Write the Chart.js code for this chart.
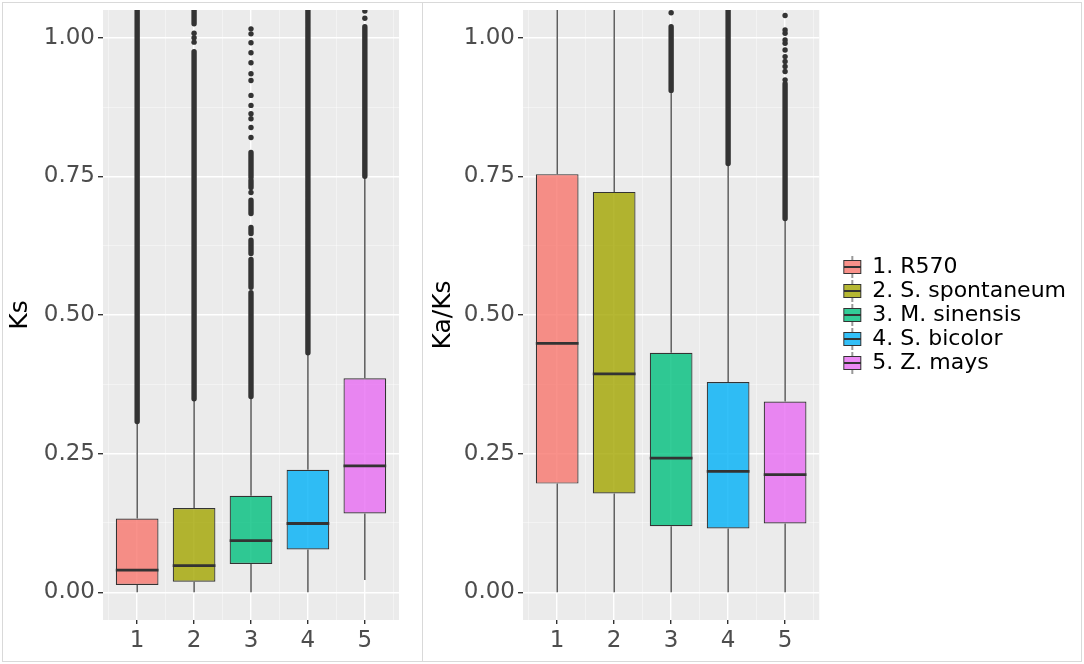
<!DOCTYPE html>
<html>
<head>
<meta charset="utf-8">
<title>Ks and Ka/Ks by species</title>
<script src="https://cdn.jsdelivr.net/npm/chart.js@4.4.1/dist/chart.umd.min.js"></script>
<style>
  html, body { margin: 0; padding: 0; background: #fff; }
  body { width: 1084px; height: 664px; position: relative; overflow: hidden; }
  .panel { position: absolute; top: 0; height: 664px; }
  #left { left: 0; width: 422px; }
  #right { left: 423px; width: 661px; }
  .frame { position: absolute; left: 2px; top: 2px; width: 1078px; height: 658px; border: 1px solid #d9d9d9; pointer-events: none; }
  .divider { position: absolute; left: 422px; top: 2px; width: 1px; height: 660px; background: #d9d9d9; pointer-events: none; }
</style>
</head>
<body>
<div class="panel" id="left"><canvas id="ksChart"></canvas></div>
<div class="panel" id="right"><canvas id="kaksChart"></canvas></div>
<div class="frame"></div>
<div class="divider"></div>
<script>
const groups = ['1', '2', '3', '4', '5'];
const species = ['1. R570', '2. S. spontaneum', '3. M. sinensis', '4. S. bicolor', '5. Z. mays'];
const hues = ['#F8766D', '#A3A500', '#00BF7D', '#00B0F6', '#E76BF3'];

const yMajor = [0, 0.25, 0.5, 0.75, 1.0];
const yMinor = [0.125, 0.375, 0.625, 0.875];
const yLabels = ['0.00', '0.25', '0.50', '0.75', '1.00'];
const xMinor = [0.5, 1.5, 2.5, 3.5, 4.5, 5.5];

// Ks boxes
const ksLow  = [0.000, 0.000, 0.000, 0.000, 0.022];
const ksQ1   = [0.013, 0.019, 0.051, 0.077, 0.142];
const ksMed  = [0.040, 0.048, 0.093, 0.124, 0.228];
const ksQ3   = [0.133, 0.152, 0.174, 0.221, 0.386];
const ksHigh = [0.308, 0.349, 0.353, 0.432, 0.750];
// Ks outliers: packed runs [from, to] and single points
const ksOutRuns = [
  [[0.308, 1.06]],
  [[0.349, 0.975], [1.025, 1.06]],
  [[0.353, 0.54], [0.55, 0.60], [0.611, 0.635], [0.647, 0.658], [0.683, 0.707], [0.73, 0.743], [0.748, 0.793]],
  [[0.432, 1.06]],
  [[0.750, 1.02]]
];
const ksOutPts = [
  [],
  [0.992, 1.0, 1.008],
  [0.721, 0.82, 0.838, 0.854, 0.863, 0.878, 0.896, 0.923, 0.935, 0.955, 0.973, 0.991, 1.007, 1.016],
  [],
  [1.035, 1.048]
];

// Ka/Ks boxes
const kaksLow  = [0.000, 0.000, 0.000, 0.000, 0.000];
const kaksQ1   = [0.196, 0.178, 0.119, 0.115, 0.124];
const kaksMed  = [0.449, 0.394, 0.242, 0.218, 0.212];
const kaksQ3   = [0.754, 0.722, 0.432, 0.379, 0.344];
const kaksHigh = [1.200, 1.200, 0.905, 0.773, 0.674];
const kaksOutRuns = [[], [], [[0.905, 1.02]], [[0.773, 1.06]], [[0.674, 0.917]]];
const kaksOutPts = [
  [], [], [1.045], [],
  [0.924, 0.939, 0.948, 0.957, 0.966, 0.978, 0.990, 0.996, 1.008, 1.014, 1.040]
];

Chart.defaults.font.family = "'DejaVu Sans', sans-serif";

function alpha(hex, a) {
  const n = parseInt(hex.slice(1), 16);
  return `rgba(${n >> 16}, ${(n >> 8) & 255}, ${n & 255}, ${a})`;
}

// small boxplot glyph for the legend keys
function legendIcon(hex) {
  const c = document.createElement('canvas');
  c.width = 20;
  c.height = 22;
  const g = c.getContext('2d');
  g.strokeStyle = '#333';
  g.lineWidth = 1;
  g.beginPath();
  g.moveTo(10, 0); g.lineTo(10, 4.5);
  g.moveTo(10, 17.5); g.lineTo(10, 22);
  g.stroke();
  g.fillStyle = alpha(hex, 0.8);
  g.fillRect(1.5, 4.5, 17, 13);
  g.strokeRect(1.5, 4.5, 17, 13);
  g.lineWidth = 2;
  g.beginPath();
  g.moveTo(1.5, 11); g.lineTo(18.5, 11);
  g.stroke();
  return c;
}

const panelBackground = {
  id: 'panelBackground',
  beforeDraw(chart) {
    const {ctx, chartArea: a} = chart;
    ctx.save();
    ctx.fillStyle = '#EBEBEB';
    ctx.fillRect(a.left, a.top, a.width, a.height);
    ctx.restore();
  }
};

function boxDatasets(low, q1, med, q3, high, runs, pts) {
  const xs = groups.map((g, i) => i + 1);
  const half = 0.375;
  const medians = [], whiskers = [], outRuns = [], outPts = [];
  xs.forEach((x, i) => {
    medians.push({x: x - half, y: med[i]}, {x: x + half, y: med[i]}, {x, y: null});
    whiskers.push({x, y: low[i]}, {x, y: q1[i]}, {x, y: null}, {x, y: q3[i]}, {x, y: high[i]}, {x, y: null});
    runs[i].forEach(([a, b]) => outRuns.push({x, y: a}, {x, y: b}, {x, y: null}));
    pts[i].forEach(v => outPts.push({x, y: v}));
  });
  return [
    {type: 'line', data: medians, borderColor: '#333', borderWidth: 2.8, pointRadius: 0, clip: 0, order: 0},
    {
      type: 'bar',
      data: xs.map((x, i) => ({x, y: [q1[i], q3[i]]})),
      backgroundColor: hues.map(h => alpha(h, 0.8)),
      borderColor: '#333',
      borderWidth: 1.2,
      borderSkipped: false,
      barPercentage: 0.75,
      categoryPercentage: 1,
      clip: 0,
      order: 1
    },
    {type: 'line', data: whiskers, borderColor: '#333', borderWidth: 1.2, pointRadius: 0, clip: 0, order: 2},
    {type: 'line', data: outRuns, borderColor: '#333', borderWidth: 5.4, borderCapStyle: 'round', pointRadius: 0, clip: 0, order: 3},
    {type: 'scatter', data: outPts, backgroundColor: '#333', borderWidth: 0, pointRadius: 2.7, clip: 0, order: 3}
  ];
}

function scalesFor(title, yWidth) {
  return {
    x: {
      type: 'linear', min: 0.4, max: 5.6, offset: false,
      afterBuildTicks: s => { s.ticks = groups.map((g, i) => ({value: i + 1})); },
      afterFit: s => { s.height = 44; s.paddingLeft = 0; s.paddingRight = 0; },
      border: {display: false},
      grid: {offset: false, color: '#fff', lineWidth: 1.4, tickColor: '#333', tickLength: 4},
      ticks: {
        callback: v => groups[v - 1],
        color: '#4D4D4D', font: {size: 23}, padding: 3, maxRotation: 0, autoSkip: false
      }
    },
    xMinor: {
      type: 'linear', position: 'bottom', min: 0.4, max: 5.6, offset: false, display: true,
      afterBuildTicks: s => { s.ticks = xMinor.map(v => ({value: v})); },
      afterFit: s => { s.height = 0; s.paddingLeft = 0; s.paddingRight = 0; },
      border: {display: false},
      grid: {offset: false, color: 'rgba(255,255,255,0.6)', lineWidth: 0.7, drawTicks: false},
      ticks: {display: false}
    },
    y: {
      type: 'linear', min: -0.05, max: 1.05,
      afterBuildTicks: s => {
        s.ticks = yMajor.concat(yMinor).sort((a, b) => a - b).map(v => ({value: v}));
      },
      afterFit: s => { s.width = yWidth; s.paddingTop = 0; s.paddingBottom = 0; },
      border: {display: false},
      grid: {
        color: c => yMajor.includes(c.tick.value) ? '#fff' : 'rgba(255,255,255,0.6)',
        lineWidth: c => yMajor.includes(c.tick.value) ? 1.4 : 0.7,
        tickColor: c => yMajor.includes(c.tick.value) ? '#333' : 'rgba(0,0,0,0)',
        tickLength: 5
      },
      ticks: {
        callback: v => {
          const k = yMajor.indexOf(v);
          return k >= 0 ? yLabels[k] : '';
        },
        color: '#4D4D4D', font: {size: 23}, padding: 3, autoSkip: false
      },
      title: {display: true, text: title, color: '#000', font: {size: 25, lineHeight: 1.2}, padding: {top: 5, bottom: 0}}
    }
  };
}

function makeChart(id, title, yWidth, padRight, datasets, withLegend) {
  const scales = scalesFor(title, yWidth);
  if (withLegend) {
    // empty strip between the panel and the legend
    scales.gap = {
      type: 'linear', position: 'right', display: true,
      afterFit: s => { s.width = 22; s.paddingTop = 0; s.paddingBottom = 0; },
      grid: {display: false}, ticks: {display: false}, border: {display: false}
    };
  }
  datasets.forEach(d => { d.xAxisID = 'x'; d.yAxisID = 'y'; });
  const icons = hues.map(legendIcon);
  return new Chart(document.getElementById(id), {
    type: 'bar',
    data: {datasets},
    options: {
      responsive: true,
      maintainAspectRatio: false,
      animation: false,
      events: [],
      layout: {padding: {top: 10, right: padRight, bottom: 0, left: 0}},
      scales,
      plugins: {
        tooltip: {enabled: false},
        legend: {
          display: withLegend,
          position: 'right',
          align: 'center',
          fullSize: false,
          maxWidth: 300,
          labels: {
            usePointStyle: true,
            boxWidth: 18,
            padding: 2,
            color: '#000',
            font: {size: 22},
            generateLabels: () => species.map((s, i) => ({
              text: s,
              pointStyle: icons[i],
              fillStyle: 'rgba(0,0,0,0)',
              strokeStyle: 'rgba(0,0,0,0)',
              lineWidth: 0,
              hidden: false,
              datasetIndex: 1
            }))
          }
        }
      }
    },
    plugins: [panelBackground]
  });
}

makeChart('ksChart', 'Ks', 103, 23,
  boxDatasets(ksLow, ksQ1, ksMed, ksQ3, ksHigh, ksOutRuns, ksOutPts), false);
makeChart('kaksChart', 'Ka/Ks', 100, 8,
  boxDatasets(kaksLow, kaksQ1, kaksMed, kaksQ3, kaksHigh, kaksOutRuns, kaksOutPts), true);
</script>
</body>
</html>
